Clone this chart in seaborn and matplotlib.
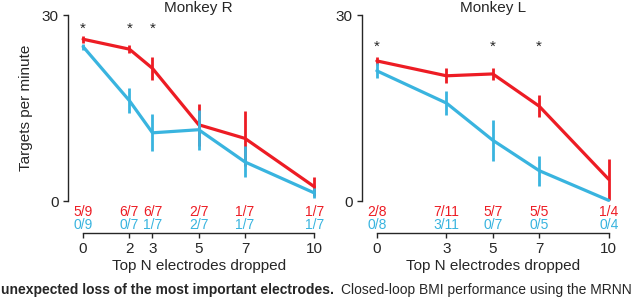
import pandas as pd
import matplotlib.pyplot as plt
import matplotlib.transforms as mtransforms
import seaborn as sns

# Monkey R
r_dropped = [0, 2, 3, 5, 7, 10]
r_red = [26.1, 24.5, 21.4, 12.3, 10.1, 2.3]
r_red_err = [0.6, 0.6, 1.8, 3.4, 4.4, 1.5]
r_blue = [24.9, 16.2, 11.0, 11.5, 6.3, 1.3]
r_blue_err = [0.5, 2.0, 3.0, 3.2, 2.5, 0.8]
r_red_frac = ['5/9', '6/7', '6/7', '2/7', '1/7', '1/7']
r_blue_frac = ['0/9', '0/7', '1/7', '2/7', '1/7', '1/7']
r_stars = [0, 2, 3]

# Monkey L
l_dropped = [0, 3, 5, 7, 10]
l_red = [22.6, 20.2, 20.5, 15.3, 3.5]
l_red_err = [0.6, 1.2, 1.0, 1.8, 3.3]
l_blue = [21.0, 15.8, 9.8, 4.9, 0.1]
l_blue_err = [1.2, 2.0, 3.3, 2.4, 0.0]
l_red_frac = ['2/8', '7/11', '5/7', '5/5', '1/4']
l_blue_frac = ['0/8', '3/11', '0/7', '0/5', '0/4']
l_stars = [0, 5, 7]

RED = '#ed1c24'
BLUE = '#39b4df'

sns.set_style('ticks')
plt.rcParams['font.family'] = ['Liberation Sans', 'DejaVu Sans']
plt.rcParams['font.size'] = 11


def draw_panel(ax, dropped, red, red_err, blue, blue_err, red_frac, blue_frac,
               stars, star_y, title, ylabel):
    df = pd.DataFrame({'dropped': dropped * 2,
                       'rate': red + blue,
                       'err': red_err + blue_err,
                       'cond': ['red'] * len(dropped) + ['blue'] * len(dropped)})
    for cond, color in [('red', RED), ('blue', BLUE)]:
        sub = df[df['cond'] == cond]
        sns.lineplot(data=sub, x='dropped', y='rate', color=color, lw=2.3,
                     ax=ax, clip_on=False)
        ax.errorbar(sub['dropped'], sub['rate'], yerr=sub['err'], fmt='none',
                    ecolor=color, elinewidth=2.0, capsize=0, clip_on=False)
    for s in stars:
        ax.text(s, star_y, '*', ha='center', va='center', fontsize=11)
    trans = mtransforms.blended_transform_factory(ax.transData, ax.transAxes)
    for x, a, b in zip(dropped, red_frac, blue_frac):
        ax.text(x, -0.058, a, color=RED, ha='center', va='center',
                fontsize=10, transform=trans)
        ax.text(x, -0.128, b, color=BLUE, ha='center', va='center',
                fontsize=10, transform=trans)
    ax.set_xlim(-0.3, 10.3)
    ax.set_ylim(0, 30)
    ax.set_xticks(dropped)
    ax.set_yticks([0, 30])
    ax.set_xlabel('Top N electrodes dropped', fontsize=11, labelpad=2)
    ax.set_ylabel(ylabel, fontsize=11, labelpad=6)
    ax.set_title(title, fontsize=11, pad=1)
    ax.legend_ = None
    sns.despine(ax=ax, offset={'left': 6, 'bottom': 23})
    ax.spines['bottom'].set_bounds(0, 10)
    ax.spines['left'].set_linewidth(1.0)
    ax.spines['bottom'].set_linewidth(1.0)
    ax.tick_params(length=3.5, width=1.0, pad=3, labelsize=11)


fig = plt.figure(figsize=(6.4, 2.98), dpi=100)
ax1 = fig.add_axes([0.119, 0.3255, 0.383, 0.624])
ax2 = fig.add_axes([0.578, 0.3255, 0.384, 0.624])

draw_panel(ax1, r_dropped, r_red, r_red_err, r_blue, r_blue_err,
           r_red_frac, r_blue_frac, r_stars, 27.8, 'Monkey R',
           'Targets per minute')
draw_panel(ax2, l_dropped, l_red, l_red_err, l_blue, l_blue_err,
           l_red_frac, l_blue_frac, l_stars, 24.9, 'Monkey L', '')

fig.text(0.002, 0.012, 'unexpected loss of the most important electrodes.',
         fontsize=10, fontweight='bold', va='baseline', ha='left')
fig.text(0.533, 0.012, 'Closed-loop BMI performance using the MRNN',
         fontsize=10, va='baseline', ha='left')

fig.savefig('out.png', dpi=100)
